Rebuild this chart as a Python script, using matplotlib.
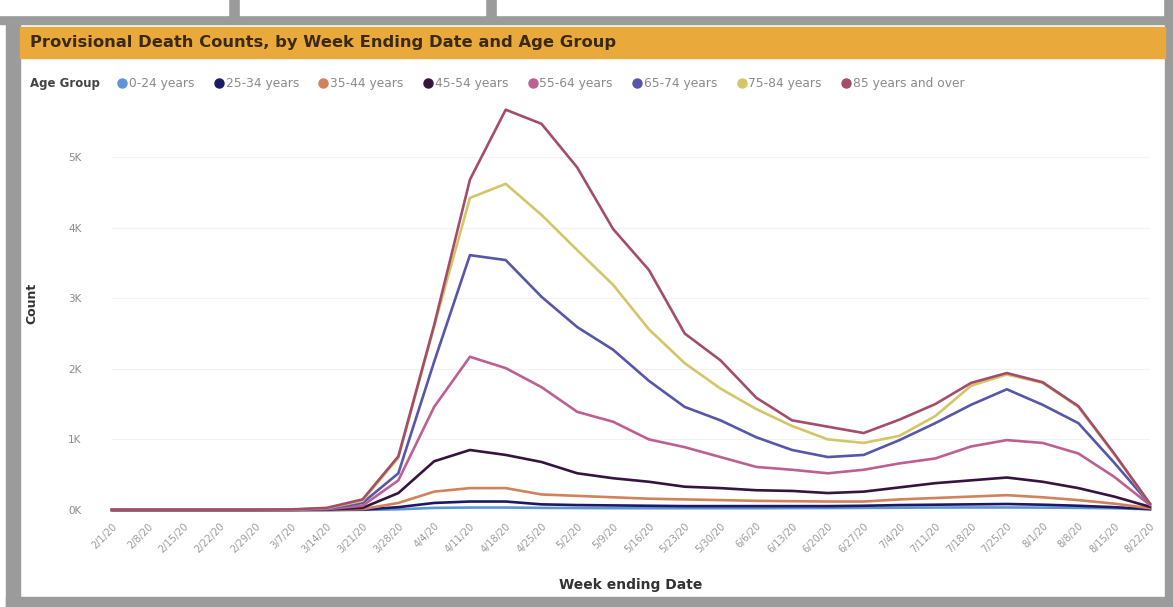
import matplotlib.pyplot as plt
from matplotlib.patches import Rectangle
from matplotlib.lines import Line2D

# week ending dates (x axis)
weeks = ['2/1/20', '2/8/20', '2/15/20', '2/22/20', '2/29/20', '3/7/20', '3/14/20',
         '3/21/20', '3/28/20', '4/4/20', '4/11/20', '4/18/20', '4/25/20', '5/2/20',
         '5/9/20', '5/16/20', '5/23/20', '5/30/20', '6/6/20', '6/13/20', '6/20/20',
         '6/27/20', '7/4/20', '7/11/20', '7/18/20', '7/25/20', '8/1/20', '8/8/20',
         '8/15/20', '8/22/20']

age_groups = ['0-24 years', '25-34 years', '35-44 years', '45-54 years',
              '55-64 years', '65-74 years', '75-84 years', '85 years and over']

# death counts
age_0_24 = [0, 0, 0, 0, 0, 0, 0, 2, 10, 30, 35, 35, 30, 28, 26, 25, 25, 25, 25, 27,
            28, 30, 32, 35, 36, 36, 34, 30, 25, 10]
age_25_34 = [0, 0, 0, 0, 0, 0, 1, 5, 40, 100, 120, 120, 80, 70, 65, 60, 55, 55, 55, 55,
             55, 60, 70, 75, 80, 85, 75, 60, 40, 12]
age_35_44 = [0, 0, 0, 0, 0, 1, 3, 12, 100, 260, 310, 310, 220, 200, 180, 160, 150, 140,
             130, 125, 120, 120, 150, 170, 190, 210, 180, 140, 90, 25]
age_45_54 = [1, 1, 1, 1, 1, 2, 6, 30, 240, 690, 850, 780, 680, 520, 450, 400, 330, 310,
             280, 270, 240, 260, 320, 380, 420, 460, 400, 310, 190, 45]
age_55_64 = [2, 2, 2, 2, 2, 3, 12, 60, 420, 1460, 2170, 2010, 1740, 1390, 1250, 1000,
             890, 750, 610, 570, 520, 570, 660, 730, 900, 990, 950, 800, 470, 70]
age_65_74 = [3, 3, 3, 3, 3, 5, 20, 100, 520, 2100, 3610, 3540, 3020, 2590, 2270, 1830,
             1460, 1270, 1030, 850, 750, 780, 990, 1230, 1490, 1710, 1490, 1230, 670, 80]
age_75_84 = [4, 4, 4, 4, 4, 6, 25, 130, 740, 2600, 4420, 4620, 4180, 3680, 3190, 2560,
             2080, 1720, 1430, 1190, 1000, 950, 1050, 1330, 1760, 1920, 1800, 1460, 790, 85]
age_85_up = [5, 5, 5, 5, 5, 8, 30, 150, 760, 2620, 4680, 5670, 5470, 4850, 3980, 3400,
             2500, 2120, 1590, 1270, 1180, 1090, 1280, 1500, 1800, 1940, 1810, 1470, 800, 90]

series = [age_0_24, age_25_34, age_35_44, age_45_54,
          age_55_64, age_65_74, age_75_84, age_85_up]
colors = ['#5f95d6', '#1c1a66', '#d2825a', '#351440',
          '#bd6091', '#5656aa', '#d3c668', '#a44d6a']

W, H = 1173, 607
fig = plt.figure(figsize=(W / 100, H / 100), dpi=100)


def box(x0, y0, x1, y1, color):
    # rectangle in pixel coords, measured from the top left
    fig.patches.append(Rectangle((x0 / W, 1 - y1 / H), (x1 - x0) / W, (y1 - y0) / H,
                                 transform=fig.transFigure, color=color, zorder=0))


# dashboard frame around the visual
box(0, 0, W, 24, '#9b9b9b')
box(0, 0, 228, 15, '#ffffff')
box(240, 0, 485, 15, '#ffffff')
box(497, 0, 1163, 15, '#ffffff')
box(6, 24, 20, H, '#9b9b9b')
box(6, 597, W, H, '#9b9b9b')
box(1165, 24, W, H, '#9b9b9b')
box(20, 27, 1165, 58, '#eaa93b')

fig.text(30 / W, 1 - 43 / H, 'Provisional Death Counts, by Week Ending Date and Age Group',
         fontsize=11.8, fontweight='bold', color='#3b2a12', va='center', ha='left')

# legend
fig.text(30 / W, 1 - 84 / H, 'Age Group', fontsize=8.5, fontweight='bold',
         color='#444444', va='center', ha='left')
handles = [Line2D([], [], marker='o', ls='', color=c, markersize=6.5) for c in colors]
fig.legend(handles, age_groups, loc='center left', bbox_to_anchor=(116 / W, 1 - 84 / H),
           ncol=8, frameon=False, fontsize=8.8, handletextpad=0.05, columnspacing=1.5,
           handlelength=1.0, labelcolor='#8a8a8a', borderpad=0, borderaxespad=0)

ax = fig.add_axes([112 / W, 1 - 510 / H, (1150 - 112) / W, (510 - 97) / H])
x = list(range(len(weeks)))
for vals, c in zip(series, colors):
    ax.plot(x, vals, color=c, lw=1.9, clip_on=False, solid_joinstyle='round')

ax.set_xlim(0, len(weeks) - 1)
ax.set_ylim(0, 5850)
ax.set_yticks([0, 1000, 2000, 3000, 4000, 5000])
ax.set_yticklabels(['0K', '1K', '2K', '3K', '4K', '5K'], fontsize=7.5, color='#8a8a8a')
ax.set_xticks(x)
ax.set_xticklabels(weeks, rotation=45, ha='right', rotation_mode='anchor',
                   fontsize=7, color='#9a9a9a')
ax.tick_params(axis='y', length=0, pad=22)
ax.tick_params(axis='x', length=0, pad=8)
ax.grid(axis='y', color='#f2f2f2', lw=0.8)
ax.set_axisbelow(True)
for s in ax.spines.values():
    s.set_visible(False)

ax.set_ylabel('Count', fontsize=9, fontweight='bold', color='#333333')
ax.yaxis.set_label_coords(-(112 - 38) / 1038, 0.5)
ax.set_xlabel('Week ending Date', fontsize=10, fontweight='bold', color='#333333')
ax.xaxis.set_label_coords(0.5, -(578 - 510) / 413)

plt.savefig('out.png', dpi=100, facecolor='white')
